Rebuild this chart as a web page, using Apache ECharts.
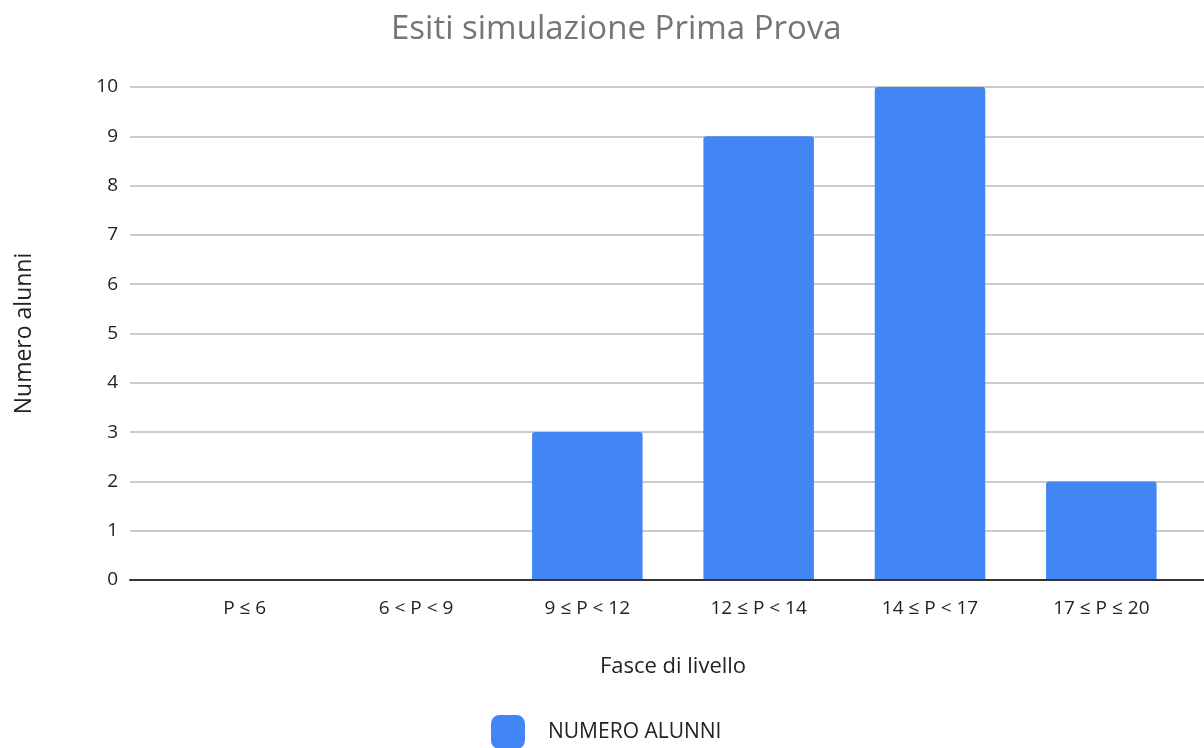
<!DOCTYPE html>
<html>
<head>
<meta charset="utf-8">
<script src="https://cdn.jsdelivr.net/npm/echarts@6/dist/echarts.min.js"></script>
<style>html,body{margin:0;padding:0;background:#fff}#c{width:1204px;height:748px}</style>
</head>
<body>
<div id="c"></div>
<script>
const titleText = 'Esiti simulazione Prima Prova';
const categories = ['P ≤ 6', '6 < P < 9', '9 ≤ P < 12', '12 ≤ P < 14', '14 ≤ P < 17', '17 ≤ P ≤ 20'];
const seriesName = 'NUMERO ALUNNI';
const values = [0, 0, 3, 9, 10, 2];
const yMin = 0, yMax = 10, yStep = 1;
const xAxisName = 'Fasce di livello';
const yAxisName = 'Numero alunni';

const font = 'Open Sans';
const chart = echarts.init(document.getElementById('c'));
chart.setOption({
  animation: false,
  backgroundColor: '#fff',
  title: {
    text: titleText, left: 386, top: 8,
    textStyle: { fontFamily: font, fontSize: 33, fontWeight: 'normal', color: '#757575' }
  },
  legend: {
    data: [seriesName], left: 491, top: 715, padding: 0,
    icon: 'roundRect', itemWidth: 34, itemHeight: 34,
    textStyle: { fontFamily: font, fontSize: 21, color: '#222', padding: [0, 0, 0, 18] }
  },
  grid: [
    { left: 130, right: 0, top: 87, bottom: 168 },
    { left: 159, right: 17, top: 87, bottom: 168 }
  ],
  xAxis: [
    { gridIndex: 0, type: 'category', data: [''], z: 5,
      axisLine: { show: true, lineStyle: { color: '#333', width: 2 } },
      axisTick: { show: false }, axisLabel: { show: false } },
    { gridIndex: 1, type: 'category', data: categories,
      axisLine: { show: false }, axisTick: { show: false },
      axisLabel: { fontFamily: font, fontSize: 19, color: '#222', margin: 19 },
      name: xAxisName, nameLocation: 'middle', nameGap: 76,
      nameTextStyle: { fontFamily: font, fontSize: 22, color: '#222' } }
  ],
  yAxis: [
    { gridIndex: 0, type: 'value', min: yMin, max: yMax, interval: yStep,
      axisLine: { show: false }, axisTick: { show: false },
      axisLabel: { fontFamily: font, fontSize: 19, color: '#222', margin: 12 },
      splitLine: { lineStyle: { color: '#cccccc', width: 2 } },
      name: yAxisName, nameLocation: 'middle', nameRotate: 90, nameGap: 94,
      nameTextStyle: { fontFamily: font, fontSize: 23, color: '#222' } },
    { gridIndex: 1, type: 'value', min: yMin, max: yMax, interval: yStep, show: false }
  ],
  series: [{
    name: seriesName, type: 'bar', xAxisIndex: 1, yAxisIndex: 1,
    data: values, barWidth: '64.5%',
    itemStyle: { color: '#4285F4', borderRadius: [3, 3, 0, 0] }
  }]
});
</script>
</body>
</html>
